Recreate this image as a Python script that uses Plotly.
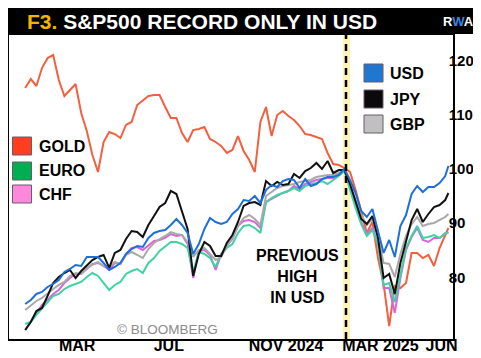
import plotly.graph_objects as go
import pandas as pd

# ---------------- data (weekly readings, index = 100 at previous USD high) ----------------
dates = list(pd.date_range("2024-01-15", periods=76, freq="7D").strftime("%Y-%m-%d")) + ["2025-06-27"]

gold = [114.96, 116.62, 115.33, 118.65, 120.50, 121.05, 116.43, 113.48, 114.59, 115.70,
        110.34, 107.02, 102.58, 99.45, 104.99, 106.83, 106.46, 105.72, 108.13, 108.68,
        111.82, 112.74, 113.48, 113.66, 113.66, 111.45, 109.42, 109.42, 106.65, 104.99,
        107.20, 107.39, 107.76, 105.54, 104.99, 104.25, 102.96, 103.51, 106.09, 103.33,
        101.66, 99.45, 108.68, 111.45, 106.09, 109.97, 110.71, 109.79, 109.05, 107.94,
        106.46, 106.28, 105.91, 105.54, 102.96, 100.92, 100.74, 100.18, 99.45, 96.12,
        92.24, 88.18, 90.21, 83.56, 78.76, 71.00, 78.39, 78.02, 78.95, 84.49,
        84.49, 83.56, 84.12, 82.09, 85.41, 87.63, 89.10]

usd = [75.07, 75.81, 76.92, 77.29, 78.21, 78.76, 79.50, 80.98, 81.53, 82.27,
       82.09, 83.75, 83.75, 83.75, 82.64, 81.35, 81.90, 82.64, 84.30, 85.22,
       85.78, 85.59, 87.26, 88.18, 88.55, 88.73, 89.66, 90.76, 89.66, 88.18,
       84.30, 86.15, 88.92, 90.95, 90.21, 89.84, 90.21, 91.69, 92.61, 94.27,
       94.09, 95.01, 93.72, 96.12, 97.04, 96.67, 97.78, 98.15, 97.97, 96.49,
       98.15, 96.86, 97.23, 98.15, 98.52, 98.52, 98.89, 100.00, 97.97, 95.57,
       92.24, 91.14, 92.61, 88.73, 84.49, 86.89, 83.75, 89.47, 91.50, 95.38,
       96.86, 95.75, 96.67, 96.67, 97.41, 98.70, 100.55]

jpy = [70.27, 71.74, 73.77, 74.33, 76.55, 78.95, 80.05, 80.79, 81.35, 79.87,
       81.16, 82.27, 83.19, 83.75, 84.12, 81.72, 84.49, 85.04, 87.07, 88.55,
       88.36, 87.44, 89.66, 91.32, 92.98, 93.72, 95.94, 95.38, 92.06, 88.92,
       80.24, 84.30, 86.52, 85.78, 83.93, 83.93, 86.33, 87.81, 90.21, 93.17,
       93.72, 93.90, 93.35, 97.78, 96.86, 97.60, 97.04, 97.23, 99.08, 98.34,
       99.63, 100.18, 101.11, 100.00, 101.48, 99.26, 99.81, 99.81, 97.23, 94.09,
       90.77, 89.84, 91.32, 87.26, 79.87, 80.61, 76.92, 82.64, 86.52, 90.58,
       92.61, 90.21, 91.69, 92.98, 93.35, 94.27, 95.57]

gbp = [73.96, 74.88, 75.62, 76.18, 77.10, 77.84, 78.58, 79.13, 80.24, 80.79,
       80.61, 81.72, 82.27, 82.82, 82.09, 81.90, 82.82, 82.46, 84.12, 84.67,
       84.12, 83.56, 85.22, 86.33, 87.07, 87.63, 88.36, 87.99, 87.81, 86.52,
       83.75, 85.04, 85.41, 84.30, 83.19, 83.75, 85.78, 87.26, 89.47, 90.95,
       91.50, 90.77, 89.66, 95.01, 95.75, 96.49, 96.86, 97.04, 97.23, 97.60,
       97.78, 97.97, 98.52, 98.71, 98.89, 98.89, 99.26, 99.81, 97.23, 94.27,
       91.50, 89.66, 90.77, 87.63, 82.64, 82.46, 80.05, 84.30, 87.63, 89.84,
       91.13, 89.47, 89.84, 90.03, 90.58, 91.13, 91.69]

euro = [71.37, 71.74, 73.04, 74.15, 75.44, 76.55, 76.92, 77.84, 78.39, 78.76,
        79.13, 80.05, 80.79, 80.24, 78.95, 77.66, 78.58, 79.13, 80.61, 81.16,
        81.53, 80.79, 82.64, 83.56, 84.86, 85.78, 86.52, 86.52, 86.15, 85.41,
        80.98, 84.67, 84.30, 83.56, 81.90, 84.30, 85.41, 86.15, 88.18, 89.47,
        89.66, 89.10, 88.18, 93.90, 94.64, 95.20, 95.57, 95.94, 96.49, 95.94,
        96.86, 97.23, 97.41, 97.78, 97.23, 97.97, 98.71, 99.63, 96.12, 92.80,
        89.84, 87.63, 88.73, 86.15, 78.58, 78.95, 75.44, 80.61, 85.41, 87.63,
        89.47, 87.26, 87.44, 87.81, 87.26, 88.18, 88.18]

chf = [70.27, 71.74, 73.41, 74.88, 75.81, 76.92, 77.66, 78.95, 79.87, 80.61,
       80.61, 81.53, 82.46, 82.64, 82.09, 81.35, 82.64, 82.46, 84.30, 85.41,
       85.59, 85.04, 85.96, 86.70, 86.89, 87.26, 87.99, 87.63, 87.81, 86.15,
       79.87, 84.86, 85.04, 84.12, 81.35, 84.30, 85.78, 87.07, 89.47, 90.40,
       90.58, 90.21, 89.10, 93.90, 94.46, 95.01, 95.57, 95.94, 96.86, 96.31,
       97.23, 97.60, 97.97, 98.15, 98.34, 98.34, 98.89, 99.81, 96.49, 93.17,
       90.21, 87.99, 89.10, 86.15, 78.02, 78.02, 73.41, 79.87, 85.04, 87.44,
       89.10, 86.89, 86.52, 87.26, 87.26, 87.99, 88.36]

prev_high_date = "2025-02-19"
x_range = ["2023-12-25 18:00", "2025-07-02 18:00"]
y_range = [68.6, 124.75]
y_ticks = [80, 90, 100, 110, 120]
x_tickvals = ["2024-03-20", "2024-07-12 12:00", "2024-12-06", "2025-04-03", "2025-06-18 12:00"]
x_ticktext = ["MAR", "JUL", "NOV 2024", "MAR 2025", "JUN"]

series = [
    ("GOLD", gold, "#F2603F"),
    ("CHF", chf, "#DC63DC"),
    ("EURO", euro, "#3ED3A2"),
    ("GBP", gbp, "#A9A9A9"),
    ("JPY", jpy, "#111111"),
    ("USD", usd, "#1E6FDB"),
]

# ---------------- layout geometry ----------------
W, H = 481, 358
L, R, T, B = 1, 36, 27, 27
PW, PH = W - L - R, H - T - B
FONT = "Liberation Sans, Arial, Helvetica, sans-serif"


def px(x):
    return (x - L) / PW


def py(y):
    return (H - B - y) / PH


fig = go.Figure()
for name, vals, col in series:
    fig.add_trace(go.Scatter(x=dates, y=vals, mode="lines", name=name,
                             line=dict(color=col, width=2), hoverinfo="skip"))

shapes = []
annotations = []

# previous-high marker
shapes.append(dict(type="rect", xref="x", yref="paper", x0="2025-02-15 06:00", x1="2025-02-24",
                   y0=0, y1=1, fillcolor="#FFF4B0", line=dict(width=0), layer="below"))
shapes.append(dict(type="line", xref="x", yref="paper", x0=prev_high_date, x1=prev_high_date,
                   y0=0, y1=1, line=dict(color="black", width=2.5, dash="7px,5px"), layer="above"))

# title bar
shapes.append(dict(type="rect", xref="paper", yref="paper", x0=px(-2), x1=px(483),
                   y0=py(26), y1=py(-2), fillcolor="black", line=dict(width=0), layer="above"))
annotations.append(dict(xref="paper", yref="paper", x=px(17), y=py(14), xanchor="left", yanchor="middle",
                        text="<b><span style='color:#F5B400'>F3.</span> S&amp;P500 RECORD ONLY IN USD</b>",
                        font=dict(family=FONT, size=21, color="white"), showarrow=False))
annotations.append(dict(xref="paper", yref="paper", x=px(450), y=py(14), xanchor="center", yanchor="middle",
                        text="<b>R<span style='color:#3C86E0'>W</span>A</b>",
                        font=dict(family=FONT, size=13, color="white"), showarrow=False))

# frame artefacts
shapes.append(dict(type="line", xref="paper", yref="paper", x0=px(479), x1=px(479), y0=py(358), y1=py(26),
                   line=dict(color="#BDBDBD", width=1)))
shapes.append(dict(type="rect", xref="paper", yref="paper", x0=px(23), x1=px(482), y0=py(359), y1=py(355),
                   fillcolor="#DDDDDD", line=dict(width=0)))

# legends
legend_left = [("GOLD", "#FF3D1F", 138), ("EURO", "#00B050", 163), ("CHF", "#FF88DD", 186)]
legend_right = [("USD", "#1F77D0", 65), ("JPY", "#0A0A0A", 91), ("GBP", "#C0C0C0", 116)]
for items, bx in ((legend_left, 4.5), (legend_right, 356)):
    for label, col, cy in items:
        shapes.append(dict(type="rect", xref="paper", yref="paper", x0=px(bx), x1=px(bx + 19),
                           y0=py(cy + 9), y1=py(cy - 9), fillcolor=col,
                           line=dict(color="#6B5A6B", width=1), layer="above"))
        annotations.append(dict(xref="paper", yref="paper", x=px(bx + 24), y=py(cy), xanchor="left",
                                yanchor="middle", text="<b>%s</b>" % label,
                                font=dict(family=FONT, size=16, color="black"), showarrow=False))

annotations.append(dict(xref="paper", yref="paper", x=px(289.5), y=py(268.5), xanchor="center",
                        yanchor="middle", align="center", text="<b>PREVIOUS<br>HIGH<br>IN USD</b>",
                        font=dict(family=FONT, size=16, color="black"), showarrow=False))
annotations.append(dict(xref="paper", yref="paper", x=px(159.5), y=py(321), xanchor="center",
                        yanchor="middle", text="© BLOOMBERG",
                        font=dict(family=FONT, size=13.5, color="#8A8A8A"), showarrow=False))

fig.update_layout(
    width=W, height=H, margin=dict(l=L, r=R, t=T, b=B, pad=0),
    paper_bgcolor="white", plot_bgcolor="white", showlegend=False,
    font=dict(family=FONT, color="black"),
    shapes=shapes, annotations=annotations,
    xaxis=dict(type="date", range=x_range, tickvals=x_tickvals,
               ticktext=["<b>%s</b>" % t for t in x_ticktext], tickfont=dict(size=16, color="black"),
               showgrid=False, zeroline=False, showline=True, mirror=True, linecolor="black",
               linewidth=1.5, ticks="", tickangle=0, ticklabelstandoff=-9, automargin=False),
    yaxis=dict(range=y_range, side="right", tickvals=y_ticks,
               ticktext=["<b>%d</b>" % v for v in y_ticks], tickfont=dict(size=15, color="black"),
               showgrid=False, zeroline=False, showline=True, mirror=True, linecolor="black",
               linewidth=1.5, ticks="", ticklabelstandoff=-9, automargin=False),
)

fig.write_html("out.html")
